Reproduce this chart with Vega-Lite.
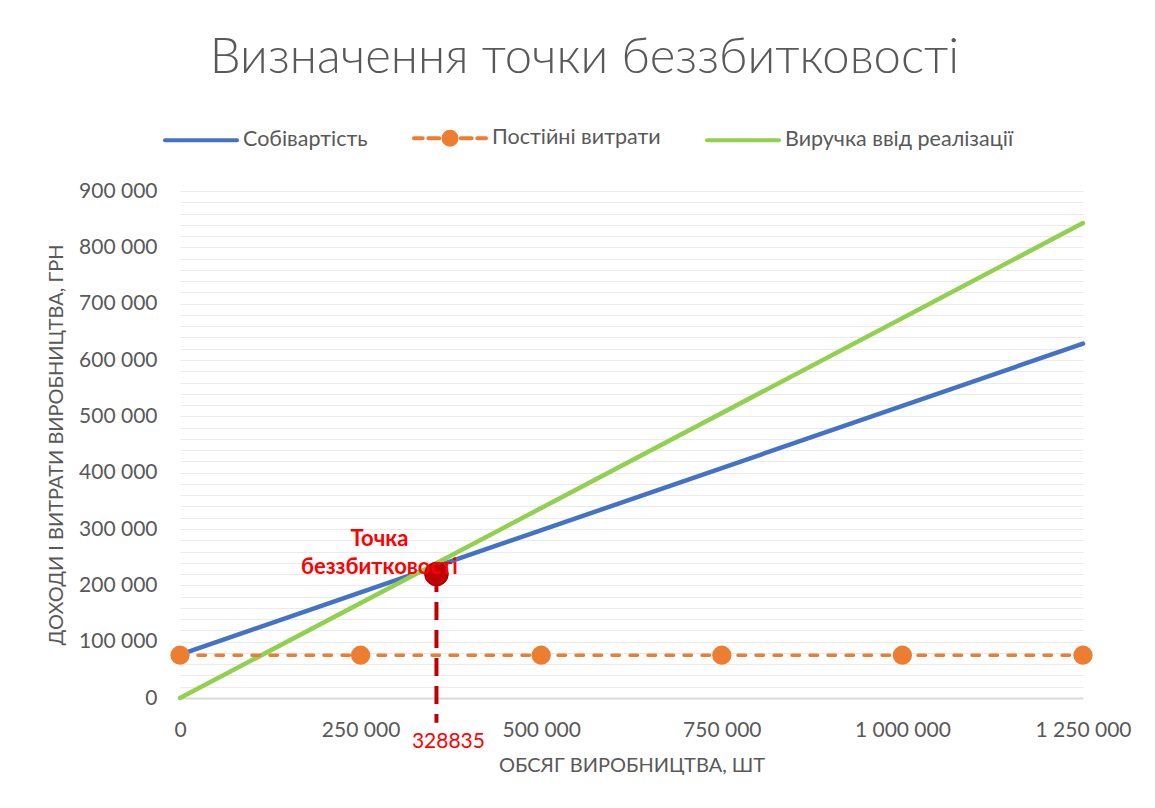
{
  "$schema": "https://vega.github.io/schema/vega-lite/v6.json",
  "autosize": {"type": "none"},
  "width": 903,
  "height": 507,
  "padding": {"left": 180, "top": 191, "right": 72, "bottom": 110},
  "background": "white",
  "title": {
    "text": "Визначення точки беззбитковості",
    "font": "Lato",
    "fontSize": 49,
    "fontWeight": 300,
    "color": "#595959",
    "anchor": "middle",
    "frame": "group",
    "baseline": "alphabetic",
    "offset": -22,
    "dx": -47
  },
  "config": {
    "view": {"stroke": null},
    "font": "Lato",
    "locale": {"number": {"decimal": ",", "thousands": " ", "grouping": [3], "currency": ["", ""]}}
  },
  "datasets": {
    "lines": [
      {"series": "Собівартість", "x": 0, "y": 77000},
      {"series": "Собівартість", "x": 1250000, "y": 629000},
      {"series": "Постійні витрати", "x": 0, "y": 76000},
      {"series": "Постійні витрати", "x": 250000, "y": 76000},
      {"series": "Постійні витрати", "x": 500000, "y": 76000},
      {"series": "Постійні витрати", "x": 750000, "y": 76000},
      {"series": "Постійні витрати", "x": 1000000, "y": 76000},
      {"series": "Постійні витрати", "x": 1250000, "y": 76000},
      {"series": "Виручка ввід реалізації", "x": 0, "y": 0},
      {"series": "Виручка ввід реалізації", "x": 1250000, "y": 843000}
    ],
    "be": [
      {"x": 355000, "y": 220000, "name": "Точка\nбеззбитковості", "label": "328835"}
    ]
  },
  "layer": [
    {
      "data": {"name": "lines"},
      "transform": [{"filter": "datum.series !== 'Постійні витрати'"}],
      "mark": {"type": "line", "strokeCap": "round", "strokeWidth": 4.5, "clip": false},
      "encoding": {
        "x": {
          "field": "x", "type": "quantitative",
          "scale": {"domain": [0, 1250000], "nice": false, "zero": false},
          "axis": {
            "values": [0, 250000, 500000, 750000, 1000000, 1250000],
            "tickCount": 100,
            "format": ",d",
            "grid": false,
            "ticks": false,
            "domainColor": "#D9D9D9",
            "domainWidth": 2,
            "labelFlush": false,
            "labelOverlap": false,
            "labelFont": "Lato",
            "labelFontSize": 21,
            "labelColor": "#595959",
            "labelPadding": 21,
            "title": "ОБСЯГ ВИРОБНИЦТВА, ШТ",
            "titleFont": "Lato",
            "titleFontSize": 20,
            "titleFontWeight": "normal",
            "titleColor": "#595959",
            "titlePadding": 15
          }
        },
        "y": {
          "field": "y", "type": "quantitative",
          "scale": {"domain": [0, 900000], "nice": false},
          "axis": {
            "values": [0,20000,40000,60000,80000,100000,120000,140000,160000,180000,200000,220000,240000,260000,280000,300000,320000,340000,360000,380000,400000,420000,440000,460000,480000,500000,520000,540000,560000,580000,600000,620000,640000,660000,680000,700000,720000,740000,760000,780000,800000,820000,840000,860000,880000,900000],
            "tickCount": 200,
            "format": ",d",
            "labelExpr": "datum.value % 100000 === 0 ? datum.label : ''",
            "labelOverlap": false,
            "domain": false,
            "ticks": false,
            "gridColor": "#EBEBEB",
            "gridWidth": 1,
            "labelFont": "Lato",
            "labelFontSize": 21,
            "labelColor": "#595959",
            "labelPadding": 23,
            "title": "ДОХОДИ І ВИТРАТИ ВИРОБНИЦТВА, ГРН",
            "titleFont": "Lato",
            "titleFontSize": 20,
            "titleFontWeight": "normal",
            "titleColor": "#595959",
            "titlePadding": 12
          }
        },
        "color": {
          "field": "series", "type": "nominal",
          "scale": {
            "domain": ["Собівартість", "Постійні витрати", "Виручка ввід реалізації"],
            "range": ["#4472C4", "#ED7D31", "#92D050"]
          },
          "legend": {
            "orient": "none",
            "legendX": -17,
            "legendY": -91,
            "direction": "horizontal",
            "title": null,
            "symbolSize": 5184,
            "symbolStrokeWidth": 4,
            "labelFont": "Lato",
            "labelFontSize": 21.5,
            "labelColor": "#595959",
            "labelOffset": 4,
            "labelLimit": 400,
            "columnPadding": 38,
            "encode": {
              "symbols": {
                "update": {
                  "shape": {"signal": "datum.value === 'Постійні витрати' ? 'M-1,0H-0.76M-0.6,0H-0.3M-0.18,0A0.18,0.18 0 1,0 0.18,0A0.18,0.18 0 1,0 -0.18,0ZM0.3,0H0.6M0.76,0H1' : 'M-1,0H1'"},
                  "fill": {"signal": "datum.value === 'Постійні витрати' ? '#ED7D31' : 'transparent'"},
                  "strokeDash": {"value": []},
                  "strokeCap": {"value": "round"},
                  "size": {"value": 5184}
                }
              }
            }
          }
        }
      }
    },
    {
      "data": {"name": "lines"},
      "transform": [{"filter": "datum.series === 'Постійні витрати'"}],
      "mark": {"type": "line", "strokeCap": "round", "strokeWidth": 3.5, "strokeDash": [7.5, 10.5], "clip": false},
      "encoding": {
        "x": {"field": "x", "type": "quantitative"},
        "y": {"field": "y", "type": "quantitative"},
        "color": {"field": "series", "type": "nominal"}
      }
    },
    {
      "data": {"name": "lines"},
      "transform": [{"filter": "datum.series === 'Постійні витрати'"}],
      "mark": {"type": "point", "filled": true, "size": 370, "opacity": 1, "clip": false},
      "encoding": {
        "x": {"field": "x", "type": "quantitative"},
        "y": {"field": "y", "type": "quantitative"},
        "color": {"value": "#ED7D31"}
      }
    },
    {
      "data": {"name": "be"},
      "mark": {"type": "rule", "strokeWidth": 4, "strokeDash": [18, 10], "color": "#C00000"},
      "encoding": {
        "x": {"field": "x", "type": "quantitative"},
        "y": {"field": "y", "type": "quantitative"},
        "y2": {"datum": -44000}
      }
    },
    {
      "data": {"name": "be"},
      "mark": {"type": "point", "filled": true, "size": 560, "opacity": 1, "color": "#C00000", "stroke": "#A00000", "strokeWidth": 1},
      "encoding": {
        "x": {"field": "x", "type": "quantitative"},
        "y": {"field": "y", "type": "quantitative"}
      }
    },
    {
      "data": {"name": "be"},
      "mark": {"type": "text", "lineBreak": "\n", "font": "Lato", "fontSize": 22, "fontWeight": "bold", "color": "#FF0000", "align": "center", "baseline": "alphabetic", "lineHeight": 28, "dx": -57, "dy": -28},
      "encoding": {
        "x": {"field": "x", "type": "quantitative"},
        "y": {"field": "y", "type": "quantitative"},
        "text": {"field": "name"}
      }
    },
    {
      "data": {"name": "be"},
      "mark": {"type": "text", "font": "Lato", "fontSize": 21, "color": "#FF0000", "align": "center", "baseline": "alphabetic", "dx": 12, "dy": 50},
      "encoding": {
        "x": {"field": "x", "type": "quantitative"},
        "y": {"datum": 0},
        "text": {"field": "label"}
      }
    }
  ]
}
